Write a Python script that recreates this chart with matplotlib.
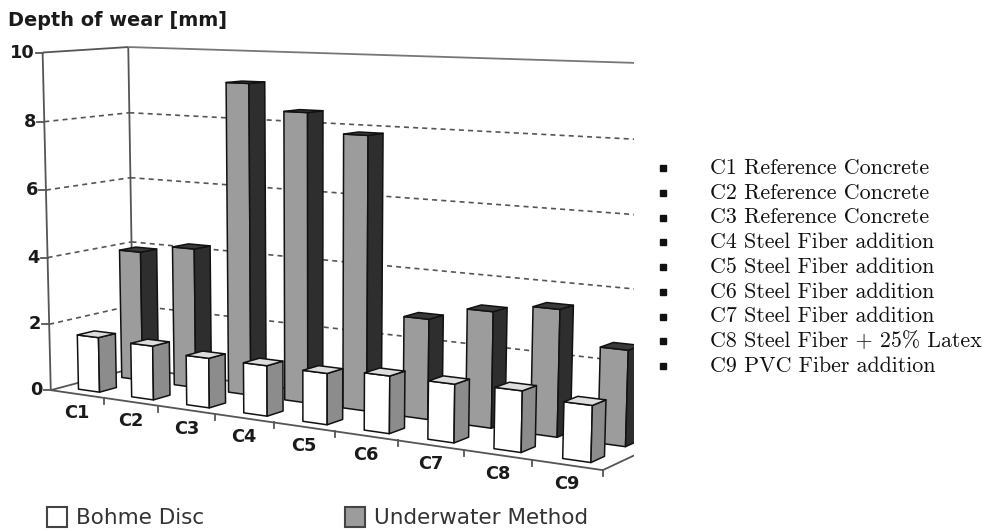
import numpy as np
import matplotlib.pyplot as plt
from matplotlib.patches import Polygon, Rectangle

# --- data ---------------------------------------------------------------
categories = ['C1', 'C2', 'C3', 'C4', 'C5', 'C6', 'C7', 'C8', 'C9']
bohme_disc = [1.65, 1.6, 1.45, 1.45, 1.45, 1.6, 1.6, 1.65, 1.5]
underwater = [3.95, 4.2, 9.15, 8.4, 7.85, 2.85, 3.25, 3.5, 2.6]
value_ticks = [0, 2, 4, 6, 8, 10]
mix_notes = ['C1 Reference Concrete', 'C2 Reference Concrete',
             'C3 Reference Concrete', 'C4 Steel Fiber addition',
             'C5 Steel Fiber addition', 'C6 Steel Fiber addition',
             'C7 Steel Fiber addition', 'C8 Steel Fiber + 25% Latex',
             'C9 PVC Fiber addition']

W, H = 986, 531

# --- perspective camera fitted to the box frame (category, depth, value) -> px
frame_pts = [
    ((0, 0, 0), (50, 390)), ((0, 0, 4), (47, 258)), ((0, 0, 8), (44.5, 122)),
    ((0, 0, 10), (43, 52)), ((0, 1, 10), (128, 47)), ((0, 1, 8), (129, 113)),
    ((0, 1, 4), (132, 242)),
]
tick_px = [105, 158, 215, 273, 335, 398, 463, 532, 603]
for k, px in enumerate(tick_px, 1):
    frame_pts.append(((k, 0, 0), (px, 390 + 0.145 * (px - 50))))
frame_lines = [
    ((0, 1, 10), (1, 0, 0), (128, 47), (630, 64)),
    ((0, 1, 8), (1, 0, 0), (323, 123.7), (630, 140)),
    ((0, 1, 6), (1, 0, 0), (383, 195), (630, 213)),
    ((9, 0, 0), (0, 1, 0), (603, 470), (635, 455)),
]

def norm(u, v):
    return (u - 330) / 300.0, (v - 260) / 300.0

rows = []
for P, (u, v) in frame_pts:
    X = np.array([*P, 1.0])
    un, vn = norm(u, v)
    rows.append(np.r_[X, np.zeros(4), -un * X])
    rows.append(np.r_[np.zeros(4), X, -vn * X])
for P, d, p1, p2 in frame_lines:
    l = np.cross([*norm(*p1), 1.0], [*norm(*p2), 1.0])
    l = l / np.hypot(l[0], l[1])
    for X in (np.array([*P, 1.0]), np.array([*d, 0.0])):
        rows.append(np.r_[l[0] * X, l[1] * X, l[2] * X])
_, _, vt = np.linalg.svd(np.array(rows))
M = vt[-1].reshape(3, 4)

def proj(x, y, z):
    h = M @ np.array([x, y, z, 1.0])
    return h[0] / h[2] * 300 + 330, h[1] / h[2] * 300 + 260

# --- figure -------------------------------------------------------------
fig = plt.figure(figsize=(W / 100, H / 100), dpi=100)
clip_x = 634
ax = fig.add_axes([0, 0, clip_x / W, 1])
ax.set_xlim(0, clip_x)
ax.set_ylim(H, 0)
ax.axis('off')
side = fig.add_axes([clip_x / W, 0, 1 - clip_x / W, 1])
side.set_xlim(clip_x, W)
side.set_ylim(H, 0)
side.axis('off')

def seg(p, q, **kw):
    a, b = proj(*p), proj(*q)
    ax.plot([a[0], b[0]], [a[1], b[1]], solid_capstyle='butt', **kw)

frame_kw = dict(color='#555555', lw=1.3, zorder=1)
grid_kw = dict(color='#555555', lw=1.2, ls=(0, (3, 2.5)), zorder=1)
x_end = 9.6

# walls
seg((0, 0, 0), (0, 0, 10), **frame_kw)
seg((0, 1, 0), (0, 1, 10), **frame_kw)
seg((0, 0, 10), (0, 1, 10), **frame_kw)
seg((0, 1, 10), (x_end, 1, 10), color='#777777', lw=1.3, zorder=1)
for z in value_ticks[1:-1]:
    seg((0, 0, z), (0, 1, z), **grid_kw)
    seg((0, 1, z), (x_end, 1, z), **grid_kw)
# floor
seg((0, 0, 0), (0, 1, 0), **frame_kw)
seg((0, 1, 0), (x_end, 1, 0), **frame_kw)
seg((0, 0, 0), (9, 0, 0), **frame_kw)
seg((9, 0, 0), (9, 1, 0), **frame_kw)

# value axis ticks and labels
for z in value_ticks:
    u, v = proj(0, 0, z)
    ax.plot([u - 7, u], [v, v], color='#555555', lw=1.3, zorder=1)
    ax.text(u - 8, v, str(z), ha='right', va='center', fontsize=12.8,
            fontweight='bold', color='#1a1a1a')

# category ticks and labels
for k in range(1, len(categories) + 1):
    u, v = proj(k, 0, 0)
    ax.plot([u, u], [v, v + 6], color='#555555', lw=1.3, zorder=1)
for i, name in enumerate(categories):
    u, v = proj(i + 0.5, 0, 0)
    ax.text(u, v + 19, name, ha='center', va='center', fontsize=12.8,
            fontweight='bold', color='#1a1a1a')

# bars: (values, depth front, depth back, front, side, top colours)
series = [
    (underwater, 0.66, 0.86, '#9c9c9c', '#2e2e2e', '#3a3a3a', 3),
    (bohme_disc, 0.14, 0.34, '#ffffff', '#8c8c8c', '#dddddd', 4),
]

def face(pts, fc, z):
    ax.add_patch(Polygon([proj(*p) for p in pts], closed=True, fc=fc,
                         ec='#111111', lw=1.1, joinstyle='round', zorder=z))

for vals, y0, y1, c_front, c_side, c_top, zbase in series:
    for i, h in enumerate(vals):
        x0, x1 = i + 0.3, i + 0.7
        z = zbase + i * 0.01
        face([(x0, y0, 0), (x1, y0, 0), (x1, y0, h), (x0, y0, h)], c_front, z)
        face([(x1, y0, 0), (x1, y1, 0), (x1, y1, h), (x1, y0, h)], c_side, z)
        face([(x0, y0, h), (x1, y0, h), (x1, y1, h), (x0, y1, h)], c_top, z)

# title
ax.text(8, 20, 'Depth of wear [mm]', ha='left', va='center', fontsize=13.9,
        fontweight='bold', color='#1a1a1a')

# legend
for x, label, fc in [(47, 'Bohme Disc', '#ffffff'),
                     (345, 'Underwater Method', '#9c9c9c')]:
    ax.add_patch(Rectangle((x, 507), 20, 20, fc=fc, ec='#444444', lw=1.5,
                           clip_on=False, zorder=5))
    ax.text(x + 29, 518, label, ha='left', va='center', fontsize=15.5,
            color='#333333')

# notes on the mixes
for j, note in enumerate(mix_notes):
    y = 168 + j * 24.75
    side.plot([663], [y], marker='s', ms=4.3, color='#111111')
    side.text(710, y, note, ha='left', va='center', fontsize=15.8,
              family=['cmr10', 'DejaVu Serif'], color='#111111')

fig.savefig('out.png', dpi=100)
